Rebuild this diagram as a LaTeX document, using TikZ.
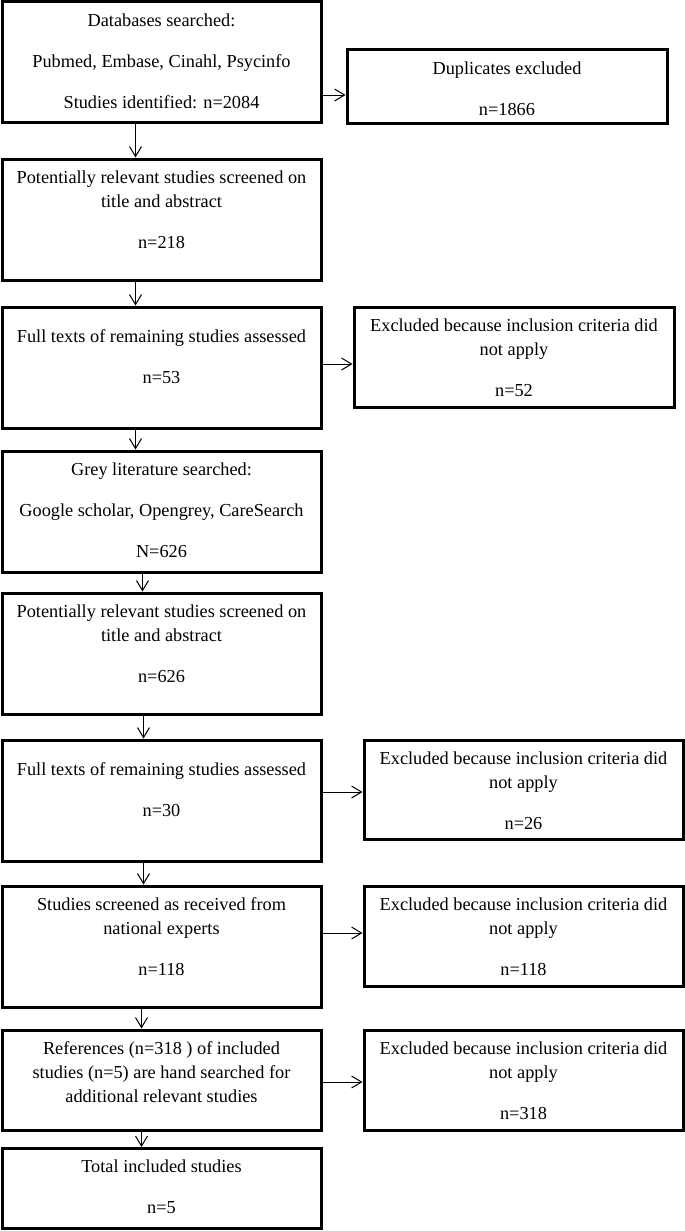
\documentclass[tikz,border=0pt]{standalone}
\usepackage{fontspec}
\setmainfont{Liberation Serif}
\usetikzlibrary{arrows.meta,positioning}

\begin{document}
\begin{tikzpicture}[x=1pt, y=-1pt,
  box/.style={draw, line width=3pt, minimum width=319pt},
  txt/.style={align=center, inner sep=0pt, font=\fontsize{18.3}{24}\selectfont},
  arr/.style={line width=1pt, -{Straight Barb[length=10pt,width=12pt]}}]

\useasboundingbox (0,0) rectangle (685,1231);

% ===============================================================
% Left column: search steps
% ===============================================================

\node[box, minimum height=120pt] (db)      at (161.5,62)     {};
\node[box, minimum height=121pt] (screen1) at (161.5,219.5)  {};
\node[box, minimum height=121pt] (full1)   at (161.5,367.5)  {};
\node[box, minimum height=121pt] (grey)    at (161.5,511.5)  {};
\node[box, minimum height=121pt] (screen2) at (161.5,653.5)  {};
\node[box, minimum height=121pt] (full2)   at (161.5,800.5)  {};
\node[box, minimum height=121pt] (experts) at (161.5,946.5)  {};
\node[box, minimum height=100pt] (refs)    at (161.5,1080)   {};
\node[box, minimum height=80pt]  (total)   at (161.5,1188.5) {};

\node[txt, below=13pt of db.north] (dbt)
  {Databases searched:\\[17pt] Pubmed, Embase, Cinahl, Psycinfo\\[17pt] Studies identified: n=2084};
\node[txt, below=13pt of screen1.north] (screen1t)
  {Potentially relevant studies screened on\\ title and abstract\\[17pt] n=218};
\node[txt, below=24pt of full1.north] (full1t)
  {Full texts of remaining studies assessed\\[17pt] n=53};
\node[txt, below=13pt of grey.north] (greyt)
  {Grey literature searched:\\[17pt] Google scholar, Opengrey, CareSearch\\[17pt] N=626};
\node[txt, below=13pt of screen2.north] (screen2t)
  {Potentially relevant studies screened on\\ title and abstract\\[17pt] n=626};
\node[txt, below=24pt of full2.north] (full2t)
  {Full texts of remaining studies assessed\\[17pt] n=30};
\node[txt, below=13pt of experts.north] (expertst)
  {Studies screened as received from\\ national experts\\[17pt] n=118};
\node[txt, below=13pt of refs.north] (refst)
  {References (n=318 ) of included\\ studies (n=5) are hand searched for\\ additional relevant studies};
\node[txt, below=13pt of total.north] (totalt)
  {Total included studies\\[17pt] n=5};

% ===============================================================
% Right column: exclusions
% ===============================================================

\node[box, minimum width=320pt, minimum height=73pt]  (dup)   at (507,86.5)  {};
\node[box, minimum width=320pt, minimum height=100pt] (excl1) at (514,357)   {};
\node[box, minimum height=99pt]  (excl2) at (523.5,789.5) {};
\node[box, minimum height=100pt] (excl3) at (523.5,936)   {};
\node[box, minimum height=100pt] (excl4) at (523.5,1080)  {};

\node[txt, below=13pt of dup.north] (dupt)
  {Duplicates excluded\\[17pt] n=1866};
\node[txt, below=13pt of excl1.north] (excl1t)
  {Excluded because inclusion criteria did\\ not apply\\[17pt] n=52};
\node[txt, below=13pt of excl2.north] (excl2t)
  {Excluded because inclusion criteria did\\ not apply\\[17pt] n=26};
\node[txt, below=13pt of excl3.north] (excl3t)
  {Excluded because inclusion criteria did\\ not apply\\[17pt] n=118};
\node[txt, below=13pt of excl4.north] (excl4t)
  {Excluded because inclusion criteria did\\ not apply\\[17pt] n=318};

% ===============================================================
% Arrows
% ===============================================================

% down the left column
\draw[arr] ([xshift=-26pt]db.south)      -- ([xshift=-26pt]screen1.north);
\draw[arr] ([xshift=-26pt]screen1.south) -- ([xshift=-26pt]full1.north);
\draw[arr] ([xshift=-26pt]full1.south)   -- ([xshift=-26pt]grey.north);
\draw[arr] ([xshift=-19pt]grey.south)    -- ([xshift=-19pt]screen2.north);
\draw[arr] ([xshift=-18pt]screen2.south) -- ([xshift=-18pt]full2.north);
\draw[arr] ([xshift=-18pt]full2.south)   -- ([xshift=-18pt]experts.north);
\draw[arr] ([xshift=-20pt]experts.south) -- ([xshift=-20pt]refs.north);
\draw[arr] ([xshift=-20pt]refs.south)    -- ([xshift=-20pt]total.north);

% across to the exclusions
\draw[arr] ([yshift=-8.5pt]dup.west -| db.east)    -- ([yshift=-8.5pt]dup.west);
\draw[arr] ([yshift=-7pt]excl1.west -| full1.east)  -- ([yshift=-7pt]excl1.west);
\draw[arr] ([yshift=-2.5pt]excl2.west -| full2.east) -- ([yshift=-2.5pt]excl2.west);
\draw[arr] ([yshift=3pt]excl3.west -| experts.east) -- ([yshift=3pt]excl3.west);
\draw[arr] ([yshift=-2pt]excl4.west -| refs.east)   -- ([yshift=-2pt]excl4.west);

\end{tikzpicture}
\end{document}
